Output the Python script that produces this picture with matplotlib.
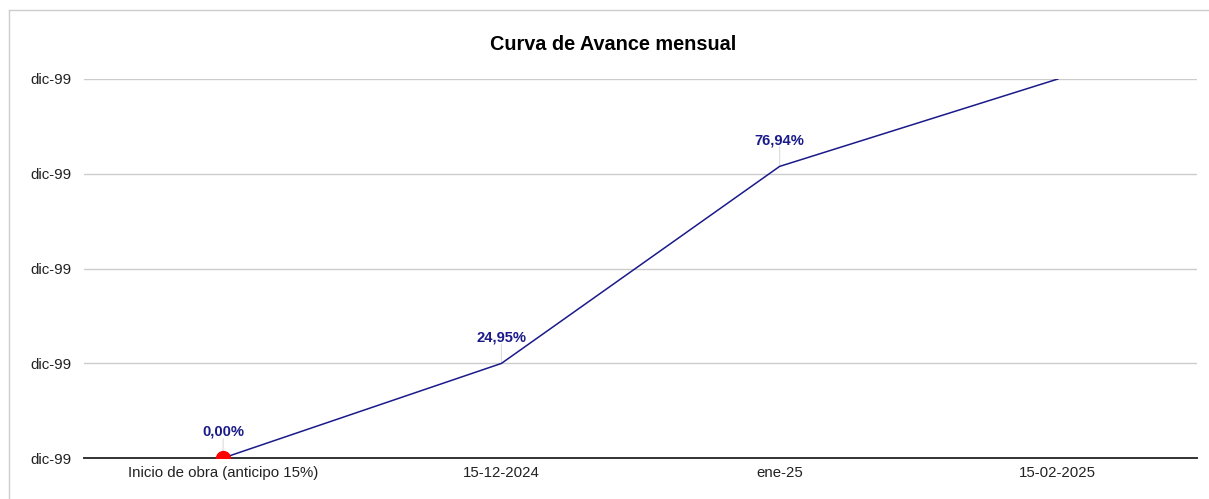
import matplotlib
matplotlib.use("Agg")
import matplotlib.pyplot as plt
from matplotlib.lines import Line2D

categories = ["Inicio de obra (anticipo 15%)", "15-12-2024", "ene-25", "15-02-2025"]
avance = [0.0, 24.95, 76.94, 100.0]
point_labels = ["0,00%", "24,95%", "76,94%", "100,00%"]
y_ticks = [0, 25, 50, 75, 100]
y_tick_labels = ["dic-99", "dic-99", "dic-99", "dic-99", "dic-99"]
title = "Curva de Avance mensual"

plt.rcParams['font.family'] = ['Liberation Sans', 'DejaVu Sans']

W, H = 1209, 499
fig = plt.figure(figsize=(W / 100, H / 100), dpi=100)
ax = fig.add_axes([84 / W, 1 - 458 / H, (1197 - 84) / W, (458 - 79) / H])

line_color = "#1a1a8a"
x = list(range(len(categories)))
ax.plot(x, avance, color=line_color, lw=1.1, zorder=3)
ax.plot([x[0]], [avance[0]], 'o', color="#ff0000", ms=10, zorder=4)

ymin, ymax = 0, 100
for xi, yi, lab in zip(x, avance, point_labels):
    if yi >= ymax:
        continue
    ax.annotate("", xy=(xi, yi), xytext=(0, 14), textcoords="offset points",
                arrowprops=dict(arrowstyle="-", color="#dddddd", lw=0.8, shrinkA=0, shrinkB=0),
                zorder=2)
    ax.annotate(lab, xy=(xi, yi), xytext=(0, 19), textcoords="offset points",
                ha="center", va="center", fontsize=10.6, fontweight="bold",
                color=line_color, zorder=5)

ax.set_xlim(-0.5, len(categories) - 0.5)
ax.set_ylim(ymin, ymax)
ax.set_xticks(x)
ax.set_xticklabels(categories, fontsize=10.8, color="#222222")
ax.set_yticks(y_ticks)
ax.set_yticklabels(y_tick_labels, fontsize=10.8, color="#222222")
ax.tick_params(axis="both", length=0)
ax.tick_params(axis="y", pad=9)
ax.tick_params(axis="x", pad=6)
ax.grid(axis="y", color="#cccccc", lw=1.0, zorder=0)
ax.set_axisbelow(True)
for s in ["top", "right", "left"]:
    ax.spines[s].set_visible(False)
ax.spines["bottom"].set_color("#333333")
ax.spines["bottom"].set_linewidth(1.4)
ax.spines["bottom"].set_zorder(3.5)

fig.text(613 / W, 1 - 45 / H, title, ha="center", va="center",
         fontsize=14.3, fontweight="bold", color="#000000")

# outer border (top and left)
fig.add_artist(Line2D([8.5 / W, 1], [1 - 9.5 / H, 1 - 9.5 / H], color="#cccccc", lw=1.0, transform=fig.transFigure))
fig.add_artist(Line2D([8.5 / W, 8.5 / W], [0, 1 - 9.5 / H], color="#cccccc", lw=1.0, transform=fig.transFigure))

fig.savefig("out.png", dpi=100)
